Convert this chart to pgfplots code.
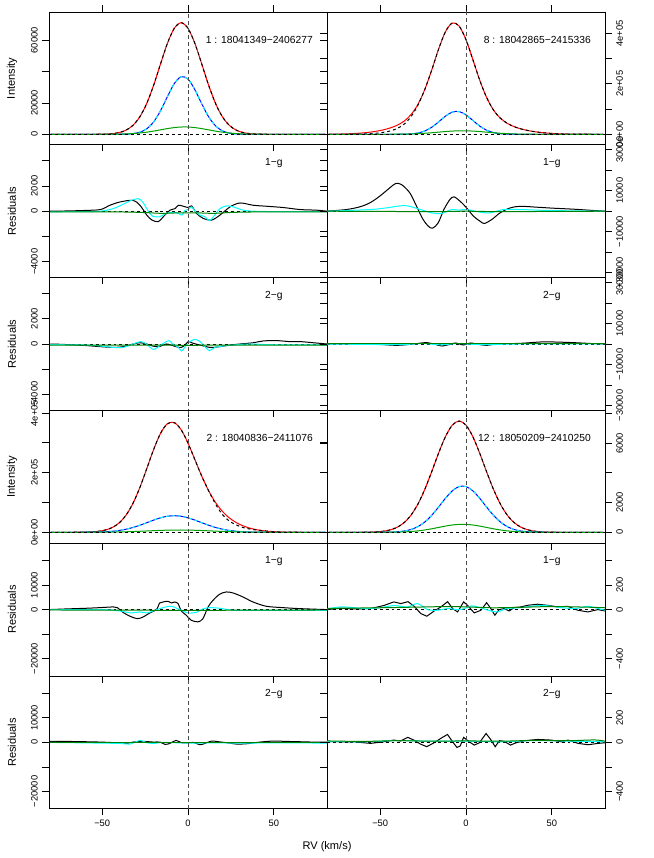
\documentclass[border=0pt]{standalone}
\usepackage{fontspec}
\setmainfont{Liberation Sans}
\usepackage{pgfplots}
\usepackage{pgfplotstable}
\pgfplotsset{compat=1.18}
\definecolor{rred}{RGB}{255,0,0}
\definecolor{rblue}{RGB}{0,0,255}
\definecolor{rcyan}{RGB}{0,255,255}
\definecolor{rgreen}{RGB}{0,160,0}
\newcommand{\tf}{\fontsize{7}{8}\selectfont}
\newcommand{\lf}{\fontsize{8.3}{10}\selectfont}
\newcommand{\pf}{\fontsize{7.7}{9}\selectfont}

\pgfplotsset{
 panel/.style={scale only axis, width=208.5pt, height=99.6pt, anchor=south west,
   xmin=-81, xmax=81, xtick={-50,0,50}, xticklabels={},
   scaled y ticks=false, scaled x ticks=false,
   major tick length=5pt,
   every tick/.append style={black, line width=0.6pt},
   axis line style={line width=0.6pt},
   xtick align=outside, ytick align=outside,
   xtick pos=left,
   every axis plot/.append style={line width=0.75pt},
   tick label style={font=\tf},
 },
 Lp/.style={panel, ytick pos=left, yticklabel style={rotate=90, anchor=south}},
 Rp/.style={panel, ytick pos=both, yticklabel pos=right, yticklabel style={rotate=90, anchor=north}},
 Ltk/.style={panel, ytick pos=right, ytick align=inside, yticklabels={}, hide x axis},
 zero/.style={black, dash pattern=on 2.2pt off 2.2pt, line width=0.6pt},
 vl/.style={black!70, dash pattern=on 3pt off 2.2pt, line width=0.7pt},
 dblack/.style={black, dash pattern=on 2.2pt off 2.2pt, line width=0.75pt},
 dcyan/.style={rcyan, dash pattern=on 2.2pt off 2.2pt, line width=0.75pt},
}

% Intensity tables: x, red (fit), blk (data), blue, green
\pgfplotstableread{
x r k b g
-80 0 0 0 0
-76 0 0 0 0
-72 0 0 0 0
-68 0 0 0 0
-64 1 1 0 0
-60 3 3 0 1
-56 12 12 0 3
-52 45 45 0 8
-48 145 145 0 21
-44 426 426 5 52
-40 1127 1127 26 118
-36 2693 2693 114 246
-32 5802 5802 424 473
-28 11290 11290 1337 838
-24 19820 19820 3553 1367
-20 31430 31430 7966 2057
-16 44980 44980 15070 2851
-12 58100 58100 24060 3642
-8 67740 67740 32400 4287
-4 71300 71300 36800 4652
0 67740 67740 35270 4652
4 58100 58100 28520 4287
8 44980 44980 19450 3642
12 31430 31430 11200 2851
16 19820 19820 5435 2057
20 11290 11290 2225 1367
24 5802 5802 769 838
28 2693 2693 224 473
32 1127 1127 55 246
36 426 426 11 118
40 145 145 0 52
44 45 45 0 21
48 12 12 0 8
52 3 3 0 3
56 0 0 0 1
60 0 0 0 0
64 0 0 0 0
68 0 0 0 0
72 0 0 0 0
76 0 0 0 0
80 0 0 0 0
}\tA

\pgfplotstableread{
x r k b g
-80 407 0 0 0
-76 731 0 0 0
-72 1271 0 0 0
-68 2140 140 0 0
-64 3490 500 0 0
-60 5490 1500 0 3
-56 8390 2400 0 8
-52 12420 4400 0 24
-48 17930 7900 0 63
-44 25510 13500 21 155
-40 36280 23300 108 351
-36 52570 40600 472 734
-32 78360 70400 1717 1410
-28 118870 115900 5200 2496
-24 178120 178120 13160 4073
-20 254580 254580 27770 6126
-16 337390 337390 48920 8491
-12 406800 406800 71880 10847
-8 441500 441500 88120 12771
-4 429550 429550 90150 13857
0 375190 375190 76940 13857
4 296280 296280 54790 12771
8 214610 214610 32560 10847
12 146050 146050 16130 8491
16 96450 96450 6680 6126
20 63970 63970 2300 4073
24 43520 43520 663 2496
28 30380 30380 159 1410
32 21420 21420 32 734
36 14960 14960 0 351
40 10250 10250 0 155
44 6810 6810 0 63
48 4390 4390 0 24
52 2740 2740 0 8
56 1660 1660 0 3
60 970 970 0 0
64 550 550 0 0
68 300 300 0 0
72 160 160 0 0
76 80 80 0 0
80 40 40 0 0
}\tB

\pgfplotstableread{
x r k b g
-80 5 5 0 0
-76 13 13 0 0
-72 39 39 0 0
-68 99 99 0 0
-64 250 250 69 0
-60 620 620 173 72
-56 1500 1500 406 139
-52 3510 3510 889 255
-48 7820 7820 1828 444
-44 16410 16410 3500 736
-40 32150 32150 6254 1163
-36 58390 58390 10440 1748
-32 97880 97880 16280 2500
-28 151030 151030 23710 3404
-24 213960 213960 32240 4411
-20 278210 278210 40950 5441
-16 332050 332050 48580 6389
-12 364230 364230 53830 7139
-8 368100 368100 55700 7594
-4 344090 344090 53830 7688
0 299220 299220 48580 7408
4 244020 244020 40950 6795
8 188550 188550 32240 5932
12 139640 139640 23710 4930
16 100340 95000 16280 3899
20 70560 60000 10440 2935
24 48720 38000 6254 2103
28 32980 25000 3500 1434
32 21790 16000 1828 931
36 13940 11000 889 575
40 8600 7500 406 338
44 5080 5080 173 189
48 2870 2870 69 101
52 1540 1540 0 51
56 790 790 0 25
60 386 386 0 13
64 180 180 0 0
68 80 80 0 0
72 34 34 0 0
76 13 13 0 0
80 5 5 0 0
}\tC

\pgfplotstableread{
x r k b g
-80 0 0 0 0
-76 0 0 0 0
-72 0 0 0 0
-68 0 0 0 0
-64 1 1 0 0
-60 4 4 0 0
-56 12 12 0 0
-52 31 31 1 1
-48 75 75 4 2
-44 167 167 13 6
-40 344 344 35 14
-36 657 657 87 28
-32 1162 1162 191 54
-28 1905 1905 384 96
-24 2895 2895 696 157
-20 4077 4077 1142 236
-16 5321 5321 1698 327
-12 6437 6437 2287 418
-8 7215 7215 2789 492
-4 7495 7495 3080 534
0 7215 7215 3080 534
4 6437 6437 2789 492
8 5321 5321 2287 418
12 4077 4077 1698 327
16 2895 2895 1142 236
20 1905 1905 696 157
24 1162 1162 384 96
28 657 657 191 54
32 344 344 87 28
36 167 167 35 14
40 75 75 13 6
44 31 31 4 2
48 12 12 1 1
52 4 4 0 0
56 1 1 0 0
60 0 0 0 0
64 0 0 0 0
68 0 0 0 0
72 0 0 0 0
76 0 0 0 0
80 0 0 0 0
}\tD

\newcommand{\intens}[1]{%
 \addplot[rred, smooth] table[x=x,y=r]{#1};
 \addplot[dblack, smooth] table[x=x,y=k]{#1};
 \addplot[rblue, smooth] table[x=x,y=b]{#1};
 \addplot[dcyan, smooth] table[x=x,y=b]{#1};
 \addplot[rgreen, smooth] table[x=x,y=g]{#1};
}
\newcommand{\refl}[2]{%
 \addplot[zero] coordinates {(-81,0) (81,0)};
 \addplot[vl] coordinates {(0,#1) (0,#2)};
}
\newcommand{\ptitle}[1]{\node[font=\pf, anchor=east, inner sep=0pt, xshift=-10.5pt, yshift=-21pt] at (rel axis cs:1,1) {#1};}
\newcommand{\gtitle}[1]{\node[font=\pf, inner sep=0pt, yshift=-13.5pt] at (rel axis cs:0.8086,1) {#1};}

\begin{document}
\begin{tikzpicture}
\useasboundingbox (0,0) rectangle (490.5pt,643.5pt);

% ---------------- Row 1 ----------------
\begin{axis}[Lp, at={(36.75pt,534.9pt)}, xtick pos=both, ymin=-6710, ymax=78150,
  ytick={0,20000,40000,60000}, yticklabels={0,20000,{},60000}]
 \intens{\tA}
 \refl{-10000}{90000}
 \ptitle{1 : 18041349−2406277}
\end{axis}
\begin{axis}[Ltk, at={(36.75pt,534.9pt)}, ymin=-6710, ymax=78150, ytick={0,20000,40000,60000}]
\end{axis}
\begin{axis}[Rp, at={(245.25pt,534.9pt)}, xtick pos=both, ymin=-41700, ymax=485300,
  ytick={0,100000,200000,300000,400000}, yticklabels={0e+00,{},2e+05,{},4e+05}]
 \intens{\tB}
 \refl{-50000}{500000}
 \ptitle{8 : 18042865−2415336}
\end{axis}

% ---------------- Row 2 ----------------
\begin{axis}[Lp, at={(36.75pt,435.3pt)}, ymin=-5250, ymax=5250,
  ytick={-4000,-2000,0,2000,4000}, yticklabels={−4000,{},0,2000,{}}]
 \addplot[zero] coordinates {(-81,0) (81,0)};
 \addplot[black, smooth] coordinates {(-81,0) (-70,20) (-60,60) (-51,130) (-45.5,470) (-39.6,730) (-32,860) (-28,470) (-24,-310) (-21,-700) (-17.3,-830) (-14.4,-440) (-10.5,80) (-7.6,200) (-5.6,470) (-2.7,390) (0.2,290) (2.1,420) (5,-180) (8.9,-570) (13.8,-700) (18.6,-310) (24.5,340) (30.3,650) (38,470) (45.9,390) (55.5,290) (65.3,130) (75,80) (81,0)};
 \addplot[rcyan, smooth] coordinates {(-81,-50) (-60,-30) (-51,0) (-43.6,200) (-37.8,550) (-33,860) (-29,990) (-26.4,730) (-23.5,80) (-20.6,-400) (-16.7,-440) (-12.8,-180) (-9.9,-100) (-7.6,-100) (-5.6,-180) (-3.6,-310) (-1.7,80) (0.2,130) (2.1,340) (4.1,0) (7,-310) (9.9,-440) (12.4,-750) (14.8,-440) (18.6,200) (22.5,420) (26.4,340) (32.2,80) (38,0) (50,-30) (81,-40)};
 \addplot[rgreen!80!black, smooth] coordinates {(-81,-60) (-40,-60) (-25,-110) (-15,-170) (-5,-130) (5,-130) (15,-170) (25,-100) (40,-60) (81,-60)};
 \addplot[vl] coordinates {(0,-6000) (0,6000)};
 \gtitle{1−g}
\end{axis}
\begin{axis}[Ltk, at={(36.75pt,435.3pt)}, ymin=-5250, ymax=5250, ytick={-4000,-2000,0,2000,4000}]
\end{axis}
\begin{axis}[Rp, at={(245.25pt,435.3pt)}, ymin=-32400, ymax=32400,
  ytick={-30000,-20000,-10000,0,10000,20000,30000}, yticklabels={−30000,{},−10000,{},10000,{},30000}]
 \addplot[zero] coordinates {(-81,0) (81,0)};
 \addplot[black, smooth] coordinates {(-81,0) (-69.8,800) (-62,2100) (-56,4070) (-50.3,7300) (-44.4,11400) (-41,13500) (-37.6,13000) (-32.7,8900) (-28.8,2400) (-25,-4070) (-22,-7300) (-19.5,-8300) (-16.2,-5700) (-12.9,800) (-9.4,5700) (-7,7000) (-3.5,4900) (0.4,1600) (4.3,-2400) (8.2,-4900) (10.7,-6000) (15,-4070) (19.9,-800) (25.7,1600) (31.6,2400) (41.3,1950) (51,1460) (62.7,980) (74.4,330) (81,0)};
 \addplot[rcyan, smooth] coordinates {(-81,0) (-56,800) (-46.6,1600) (-35.7,2750) (-27.9,1140) (-20.1,-800) (-14.3,-1140) (-8.4,800) (-4.5,500) (0.4,800) (8.2,-500) (14,-800) (21.8,800) (31.6,800) (51,300) (81,0)};
 \addplot[rgreen!80!black, smooth] coordinates {(-81,0) (-20,-200) (0,0) (20,-200) (81,0)};
 \addplot[vl] coordinates {(0,-40000) (0,40000)};
 \gtitle{1−g}
\end{axis}

% ---------------- Row 3 ----------------
\begin{axis}[Lp, at={(36.75pt,335.7pt)}, ymin=-5250, ymax=5250,
  ytick={-4000,-2000,0,2000,4000}, yticklabels={−4000,{},0,2000,{}}]
 \addplot[zero] coordinates {(-81,0) (81,0)};
 \addplot[black, smooth] coordinates {(-81,0) (-73,-30) (-60,-120) (-51,-210) (-43.6,-270) (-37.8,-210) (-32,0) (-28,100) (-24,0) (-20.6,-160) (-16.7,-210) (-12.8,0) (-9.9,-80) (-7,-210) (-4,-270) (-1.7,-80) (0.2,190) (3.1,50) (7,-80) (12.8,-270) (18.6,-210) (24.5,-80) (30.3,0) (38,100) (43.8,240) (51.5,270) (59.3,190) (65.3,190) (73,100) (81,0)};
 \addplot[rcyan, smooth] coordinates {(-81,-50) (-60,-80) (-51,-160) (-43.6,-270) (-37.8,-270) (-32,0) (-27.2,190) (-23.5,-80) (-20.2,-430) (-16.7,-160) (-13.8,100) (-10.9,270) (-9,0) (-5.6,-270) (-3.7,-560) (-1.7,-210) (1.2,190) (4.1,370) (7,190) (9.9,-210) (12.4,-530) (15.7,-270) (20.6,-160) (26.4,-80) (36,0) (50,-60) (81,-80)};
 \addplot[rgreen!80!black, smooth] coordinates {(-81,-80) (-30,-90) (0,-100) (30,-90) (81,-80)};
 \addplot[vl] coordinates {(0,-6000) (0,6000)};
 \gtitle{2−g}
\end{axis}
\begin{axis}[Ltk, at={(36.75pt,335.7pt)}, ymin=-5250, ymax=5250, ytick={-4000,-2000,0,2000,4000}]
\end{axis}
\begin{axis}[Rp, at={(245.25pt,335.7pt)}, ymin=-32400, ymax=32400,
  ytick={-30000,-20000,-10000,0,10000,20000,30000}, yticklabels={−30000,{},−10000,{},10000,{},30000}]
 \addplot[zero] coordinates {(-81,0) (81,0)};
 \addplot[black, smooth] coordinates {(-81,0) (-56,0) (-40.4,-650) (-30.6,0) (-22.8,650) (-16,-650) (-14,-980) (-10.1,-330) (-6.2,490) (-1.4,-490) (2.5,490) (8.4,-330) (12.3,-650) (18.2,0) (31.8,330) (43.5,980) (51.3,980) (63,650) (74.7,160) (81,0)};
 \addplot[rcyan, smooth] coordinates {(-81,0) (-40,-300) (-25,200) (-15,-400) (-5,200) (5,-200) (15,-300) (30,0) (81,0)};
 \addplot[rgreen!80!black] coordinates {(-81,0) (81,0)};
 \addplot[vl] coordinates {(0,-40000) (0,40000)};
 \gtitle{2−g}
\end{axis}

% ---------------- Row 4 ----------------
\begin{axis}[Lp, at={(36.75pt,236.1pt)}, ymin=-36600, ymax=409000,
  ytick={0,100000,200000,300000,400000}, yticklabels={0e+00,{},2e+05,{},4e+05}]
 \intens{\tC}
 \refl{-50000}{450000}
 \ptitle{2 : 18040836−2411076}
\end{axis}
\begin{axis}[Ltk, at={(36.75pt,236.1pt)}, ymin=-36600, ymax=409000, ytick={0,100000,200000,300000,400000}]
\end{axis}
\begin{axis}[Rp, at={(245.25pt,236.1pt)}, ymin=-734, ymax=8209,
  ytick={0,2000,4000,6000,8000}, yticklabels={0,2000,{},6000,{}}]
 \intens{\tD}
 \refl{-1000}{9000}
 \ptitle{12 : 18050209−2410250}
\end{axis}

% ---------------- Row 5 ----------------
\begin{axis}[Lp, at={(36.75pt,136.5pt)}, ymin=-27100, ymax=27100,
  ytick={-20000,-10000,0,10000,20000}, yticklabels={−20000,{},0,10000,{}}]
 \addplot[zero] coordinates {(-81,0) (81,0)};
 \addplot[black, smooth] coordinates {(-81,0) (-71,270) (-59.5,540) (-51.3,800) (-43.5,1090) (-41.2,800) (-37.7,-1220) (-33.8,-2700) (-29.6,-3700) (-26.1,-3000) (-22.3,-1360) (-18.4,0) (-16.5,2700) (-14.6,3100) (-11.7,3400) (-9.7,2700) (-7.8,3100) (-5.8,2450) (-3.9,-540) (-1,-2300) (1.9,-4350) (5.8,-5000) (8.7,-3700) (11.7,1090) (14.6,3800) (18.4,6260) (22.3,7200) (26.2,6800) (32,5170) (37.8,3130) (45.6,1360) (55.3,800) (65,400) (81,0)};
 \addplot[rcyan, smooth] coordinates {(-81,0) (-51,0) (-39.6,-540) (-33.8,-1360) (-28,-950) (-24,-1360) (-19.2,-270) (-14.6,800) (-9.7,1360) (-4.9,0) (0,-1360) (4.9,-1090) (8.7,270) (12.6,800) (18.4,540) (26.2,-270) (37.8,-270) (81,-270)};
 \addplot[rgreen!80!black, smooth] coordinates {(-81,-150) (-30,-250) (0,-300) (30,-250) (81,-150)};
 \addplot[vl] coordinates {(0,-30000) (0,30000)};
 \gtitle{1−g}
\end{axis}
\begin{axis}[Ltk, at={(36.75pt,136.5pt)}, ymin=-27100, ymax=27100, ytick={-20000,-10000,0,10000,20000}]
\end{axis}
\begin{axis}[Rp, at={(245.25pt,136.5pt)}, ymin=-542, ymax=542,
  ytick={-400,-200,0,200,400}, yticklabels={−400,{},0,200,{}}]
 \addplot[zero] coordinates {(-81,0) (81,0)};
 \addplot[black] coordinates {(-81,0) (-73.3,11) (-65.5,5) (-55.7,8) (-48,33) (-42,63) (-38,49) (-33.8,65) (-30.2,27) (-26.3,-33) (-22.8,-54) (-18.5,-11) (-14.6,22) (-10.7,65) (-7.8,8) (-4.9,-19) (-1.4,63) (0.9,35) (4.8,-27) (8.7,-5) (12,57) (14.5,8) (16.8,-46) (19.3,0) (22.2,8) (25.2,-11) (28.1,16) (32,22) (35.9,35) (41.7,44) (47.6,35) (53.4,22) (59.3,27) (65.1,-5) (71,-19) (76.8,0) (81,-11)};
 \addplot[rcyan, smooth] coordinates {(-81,5) (-73.3,22) (-65.5,16) (-57.7,8) (-49.9,16) (-42,33) (-34.2,22) (-28.3,49) (-22.4,0) (-16.6,-5) (-10.7,8) (-4.9,0) (-1,8) (2.9,30) (6.8,22) (12.7,-5) (18.5,-19) (23.4,8) (32.2,16) (43.9,35) (55.6,16) (63.4,8) (71.2,27) (77,8) (81,-5)};
 \addplot[rgreen!80!black, smooth] coordinates {(-81,10) (-50,15) (-30,20) (-10,25) (0,22) (15,15) (30,18) (50,25) (70,20) (81,15)};
 \addplot[vl] coordinates {(0,-600) (0,600)};
 \gtitle{1−g}
\end{axis}

% ---------------- Row 6 ----------------
\begin{axis}[Lp, at={(36.75pt,36.9pt)}, ymin=-27100, ymax=27100,
  ytick={-20000,-10000,0,10000,20000}, yticklabels={−20000,{},0,10000,{}},
  xticklabels={−50,0,50}]
 \addplot[zero] coordinates {(-81,0) (81,0)};
 \addplot[black, smooth] coordinates {(-81,400) (-71,400) (-59.5,270) (-51.3,135) (-41.5,-135) (-35.8,-400) (-31.9,135) (-26,400) (-20.2,135) (-16.3,135) (-13.4,-810) (-10.5,-400) (-7,810) (-3.7,-135) (0.2,-135) (3.1,0) (7,-950) (9.9,-400) (13.8,540) (17.7,270) (22.5,-135) (28.4,-680) (34.2,-540) (42,135) (49.7,540) (57.5,400) (65.3,270) (73,135) (81,135)};
 \addplot[rcyan, smooth] coordinates {(-81,0) (-41.5,-400) (-34,-680) (-28,810) (-24,-135) (-20,-400) (-14,0) (-5,-200) (5,-300) (15,-150) (30,-300) (50,-200) (81,-270)};
 \addplot[rgreen!80!black] coordinates {(-81,-150) (81,-150)};
 \addplot[vl] coordinates {(0,-30000) (0,30000)};
 \gtitle{2−g}
\end{axis}
\begin{axis}[Ltk, at={(36.75pt,36.9pt)}, ymin=-27100, ymax=27100, ytick={-20000,-10000,0,10000,20000}]
\end{axis}
\begin{axis}[Rp, at={(245.25pt,36.9pt)}, ymin=-542, ymax=542,
  ytick={-400,-200,0,200,400}, yticklabels={−400,{},0,200,{}},
  xticklabels={−50,0,50}]
 \addplot[zero] coordinates {(-81,0) (81,0)};
 \addplot[black] coordinates {(-81,8) (-73.3,5) (-65.5,5) (-55.7,-8) (-48,5) (-42.1,19) (-38.2,11) (-33.9,41) (-30.4,19) (-26.5,-14) (-22.9,-35) (-18.6,-3) (-14.7,33) (-10.8,65) (-7.8,5) (-5.3,-41) (-3.4,-30) (-1.4,41) (1.9,5) (4.8,-22) (7.8,-3) (11.7,73) (14.6,19) (17,-35) (19.5,14) (22.4,8) (25.9,-22) (29.2,-3) (34.1,14) (41.9,24) (49.7,19) (55.6,5) (59.5,19) (65.3,-8) (71.2,-19) (77,-8) (81,-3)};
 \addplot[rcyan, smooth] coordinates {(-81,8) (-60,5) (-40,15) (-20,10) (0,10) (20,5) (40,15) (60,10) (81,5)};
 \addplot[rgreen!80!black, smooth] coordinates {(-81,12) (-60,8) (-40,14) (-20,10) (0,12) (20,10) (40,16) (60,14) (75,20) (81,10)};
 \addplot[vl] coordinates {(0,-600) (0,600)};
 \gtitle{2−g}
\end{axis}

% axis titles
\node[font=\lf, rotate=90] at (9pt,584.7pt) {Intensity};
\node[font=\lf, rotate=90] at (9pt,485.1pt) {Residuals};
\node[font=\lf, rotate=90] at (9pt,385.5pt) {Residuals};
\node[font=\lf, rotate=90] at (9pt,285.9pt) {Intensity};
\node[font=\lf, rotate=90] at (9pt,186.3pt) {Residuals};
\node[font=\lf, rotate=90] at (9pt,86.7pt) {Residuals};
\node[font=\lf] at (245.25pt,8.25pt) {RV (km/s)};
\end{tikzpicture}
\end{document}
